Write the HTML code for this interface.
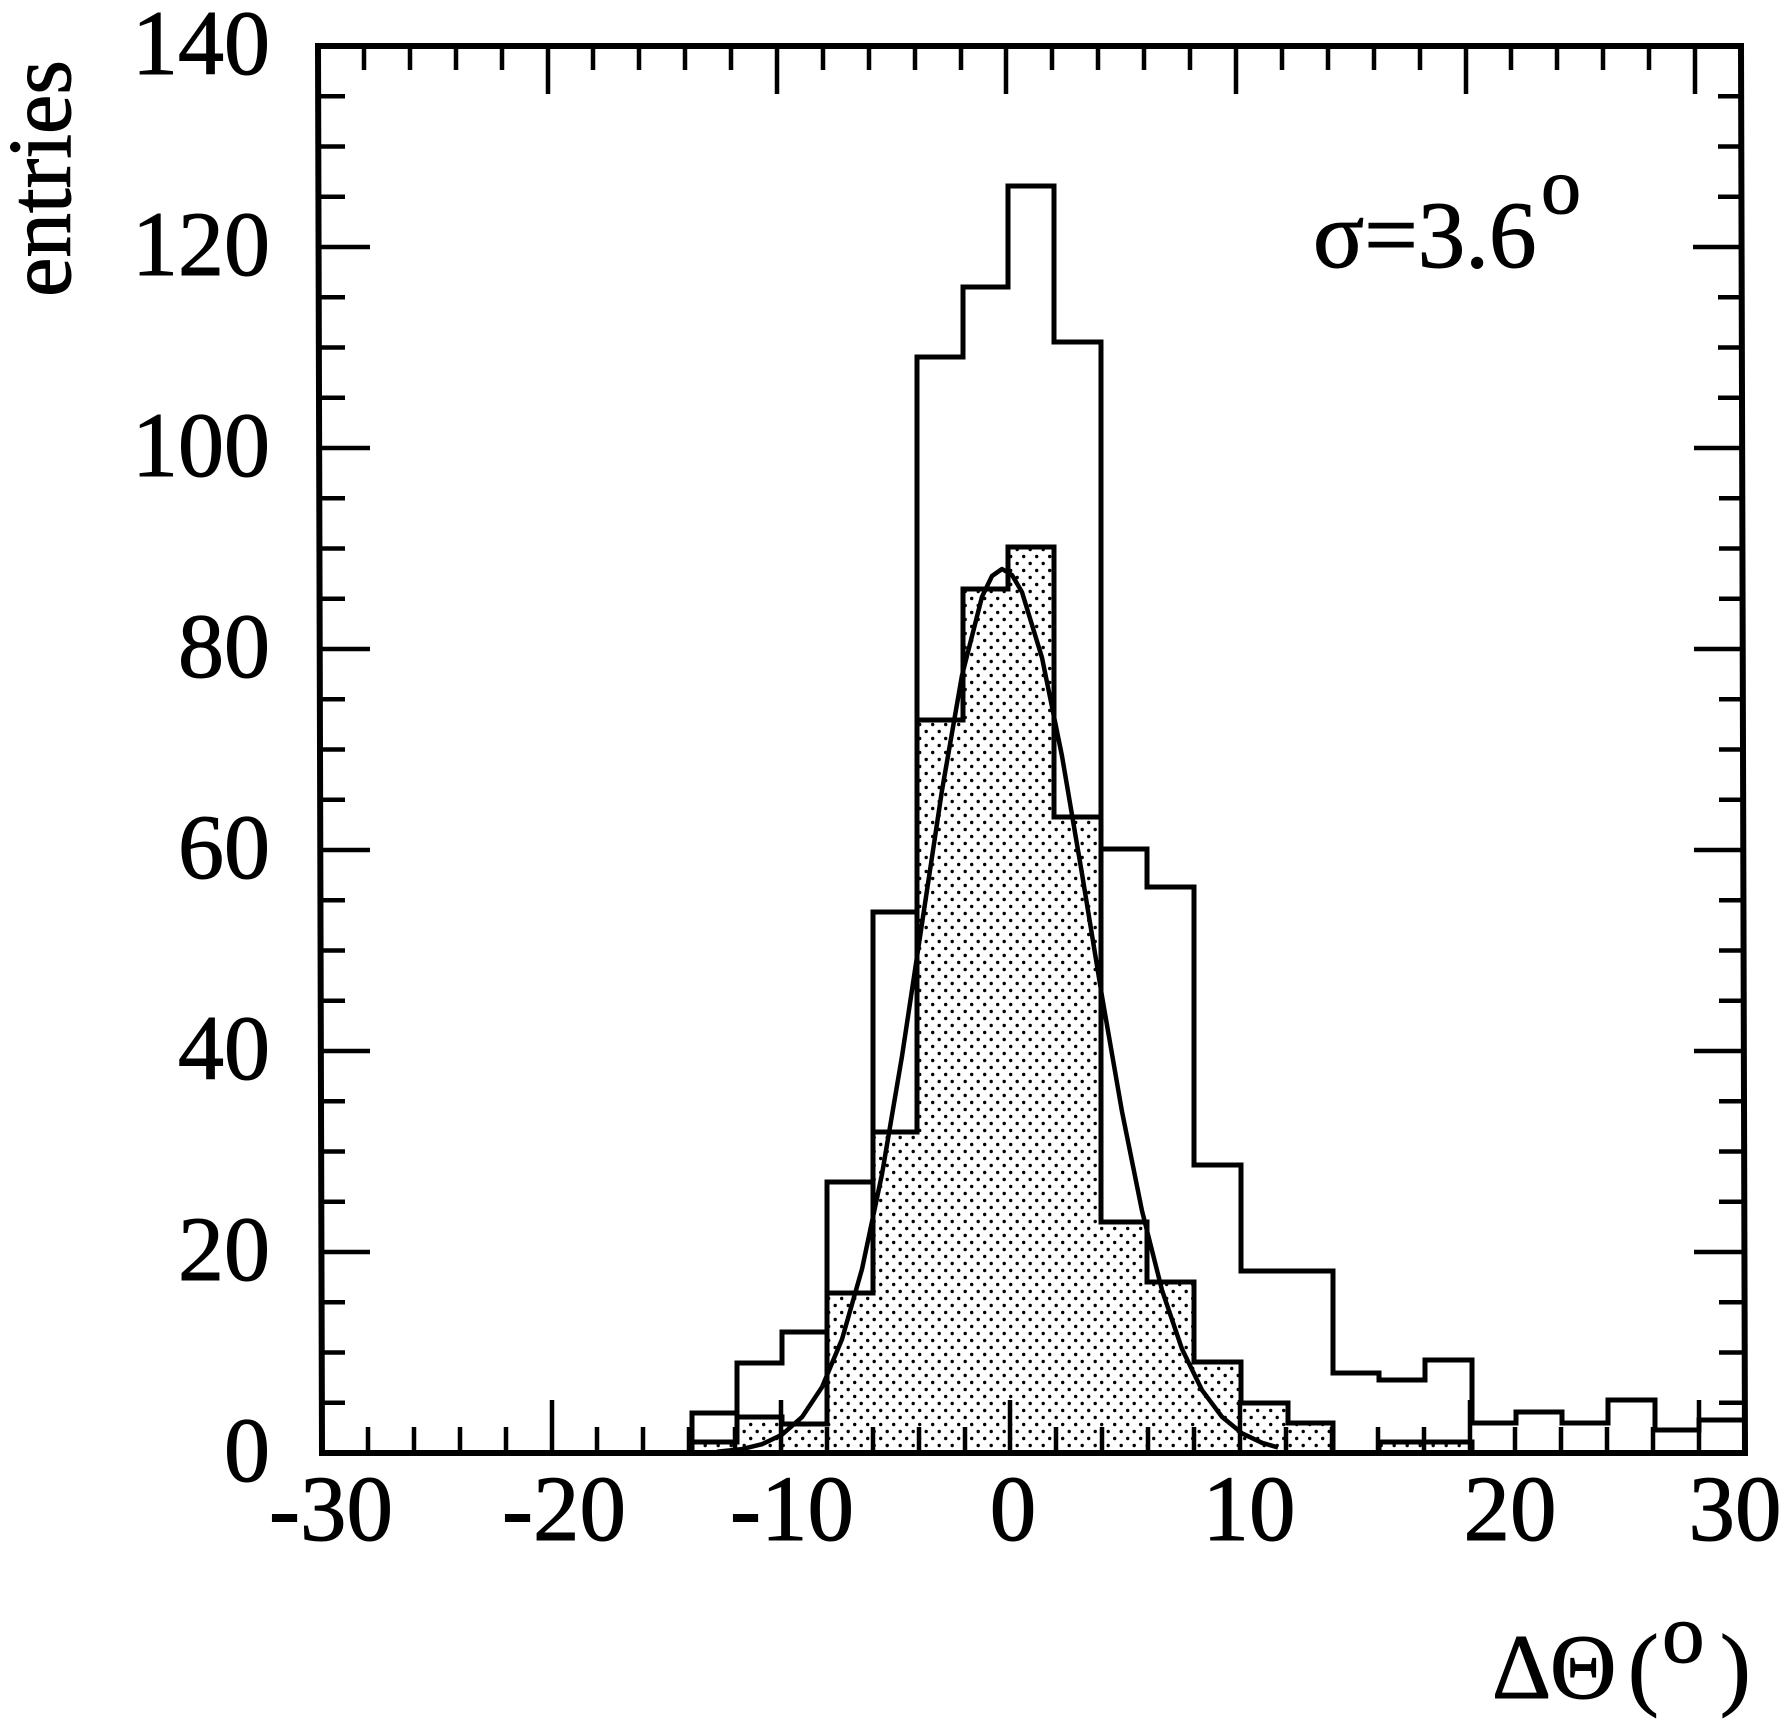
<!DOCTYPE html>
<html>
<head>
<meta charset="utf-8">
<style>
html,body{margin:0;padding:0;background:#fff;}
svg{display:block;}
text{font-family:"Liberation Serif",serif;fill:#000;stroke:#000;stroke-width:1;}
</style>
</head>
<body>
<svg width="1785" height="1721" viewBox="0 0 1785 1721" xmlns="http://www.w3.org/2000/svg">
<defs>
<pattern id="dots" patternUnits="userSpaceOnUse" width="13" height="14">
<circle cx="3.2" cy="3.5" r="1.7" fill="#000"/>
<circle cx="9.7" cy="10.5" r="1.7" fill="#000"/>
</pattern>
</defs>
<rect width="1785" height="1721" fill="#fff"/>

<!-- shaded histogram -->
<path d="M692 1453 V1442 H737 V1417 H782 V1424 H827 V1293 H873 V1132 H917 V720 H963 V589 H1008 V547 H1054 V817 H1101 V1222 H1147 V1282 H1194 V1362 H1241 V1403 H1288 V1423 H1333 V1453 Z" fill="url(#dots)" stroke="#000" stroke-width="5" stroke-linejoin="miter"/>
<path d="M1379 1453 V1442 H1472 V1453 Z" fill="url(#dots)" stroke="#000" stroke-width="5"/>

<!-- open histogram -->
<path d="M692 1453 V1413 H737 V1363 H782 V1332 H827 V1182 H873 V912 H917 V357 H963 V287 H1008 V186 H1054 V342 H1101 V849 H1147 V887 H1194 V1165 H1241 V1271 H1333 V1373 H1379 V1380 H1425 V1360 H1472 V1423 H1516 V1412 H1562 V1423 H1608 V1400 H1655 V1430 H1699 V1420 H1744" fill="none" stroke="#000" stroke-width="5" stroke-linejoin="miter"/>

<!-- gaussian fit -->
<polyline fill="none" stroke="#000" stroke-width="4.5" stroke-linejoin="round" points="
717,1451.7 742,1449.1 762,1444.2 782,1434.7 802,1417.1 822,1387.1 842,1339.3 862,1269.1 882,1174.1 902,1056.3 922,923.6 942,790.4 962,675.4 982,596.8 992,576 1002,569 1012,575 1022,592.1 1042,657.7 1062,756 1082,873.8 1102,996.3 1122,1111.6 1142,1210.8 1162,1290.1 1182,1349 1202,1390.1 1222,1416.9 1242,1433.3 1262,1442.8 1278,1447.5"/>

<!-- frame -->
<polygon points="318,46 1741,46 1745,1453 322,1453" fill="none" stroke="#000" stroke-width="6" stroke-linejoin="miter"/>

<!-- ticks -->
<g stroke="#000" stroke-width="4.5" fill="none">
<path d="M368 1453 V1427 M414 1453 V1427 M460 1453 V1427 M506 1453 V1427 M552 1453 V1400 M597 1453 V1427 M643 1453 V1427 M689 1453 V1427 M735 1453 V1427 M781 1453 V1400 M827 1453 V1427 M873 1453 V1427 M919 1453 V1427 M965 1453 V1427 M1010 1453 V1400 M1056 1453 V1427 M1102 1453 V1427 M1148 1453 V1427 M1194 1453 V1427 M1240 1453 V1400 M1286 1453 V1427 M1332 1453 V1427 M1378 1453 V1427 M1424 1453 V1427 M1470 1453 V1400 M1515 1453 V1427 M1561 1453 V1427 M1607 1453 V1427 M1653 1453 V1427 M1699 1453 V1400"/>
<path d="M364 46 V70 M410 46 V70 M456 46 V70 M502 46 V70 M548 46 V94 M593 46 V70 M639 46 V70 M685 46 V70 M731 46 V70 M777 46 V94 M823 46 V70 M869 46 V70 M915 46 V70 M961 46 V70 M1006 46 V94 M1052 46 V70 M1098 46 V70 M1144 46 V70 M1190 46 V70 M1236 46 V94 M1282 46 V70 M1328 46 V70 M1374 46 V70 M1420 46 V70 M1466 46 V94 M1511 46 V70 M1557 46 V70 M1603 46 V70 M1649 46 V70 M1695 46 V94"/>
<path d="M320 1402.75 H345 M320 1352.5 H345 M320 1302.25 H345 M320 1252 H370 M320 1201.75 H345 M320 1151.5 H345 M320 1101.25 H345 M320 1051 H370 M320 1000.75 H345 M320 950.5 H345 M320 900.25 H345 M320 850 H370 M320 799.75 H345 M320 749.5 H345 M320 699.25 H345 M320 649 H370 M320 598.75 H345 M320 548.5 H345 M320 498.25 H345 M320 448 H370 M320 397.75 H345 M320 347.5 H345 M320 297.25 H345 M320 247 H370 M320 196.75 H345 M320 146.5 H345 M320 96.25 H345"/>
<path d="M1744 1402.75 H1719 M1744 1352.5 H1719 M1744 1302.25 H1719 M1744 1252 H1694 M1744 1201.75 H1719 M1744 1151.5 H1719 M1744 1101.25 H1719 M1744 1051 H1694 M1744 1000.75 H1719 M1744 950.5 H1719 M1744 900.25 H1719 M1744 850 H1694 M1744 799.75 H1719 M1744 749.5 H1719 M1744 699.25 H1719 M1744 649 H1694 M1744 598.75 H1719 M1744 548.5 H1719 M1744 498.25 H1719 M1744 448 H1694 M1743 397.75 H1718 M1743 347.5 H1718 M1743 297.25 H1718 M1743 247 H1693 M1743 196.75 H1718 M1743 146.5 H1718 M1743 96.25 H1718"/>
</g>

<g font-family="Liberation Serif, serif">
<!-- y tick labels -->
<g font-size="92" text-anchor="end">
<text x="270" y="74">140</text>
<text x="270" y="275">120</text>
<text x="270" y="476">100</text>
<text x="270" y="677">80</text>
<text x="270" y="878">60</text>
<text x="270" y="1079">40</text>
<text x="270" y="1280">20</text>
<text x="270" y="1481">0</text>
</g>

<!-- x tick labels -->
<g font-size="93" text-anchor="middle">
<text x="331" y="1540">-30</text>
<text x="564" y="1540">-20</text>
<text x="792" y="1540">-10</text>
<text x="1013" y="1540">0</text>
<text x="1249" y="1540">10</text>
<text x="1510" y="1540">20</text>
<text x="1735" y="1540">30</text>
</g>

<!-- axis titles -->
<text transform="translate(70,297) rotate(-90)" font-size="90" textLength="237" lengthAdjust="spacingAndGlyphs">entries</text>

<text x="1492" y="1698" font-size="92">Δ</text>
<text x="1550" y="1698" font-size="92">Θ</text>
<text x="1628" y="1698" font-size="92">(</text>
<text x="1662" y="1662" font-size="85">o</text>
<text x="1720" y="1698" font-size="92">)</text>

<!-- sigma annotation -->
<text x="1313" y="267" font-size="95">σ=3.6</text>
<text x="1541" y="213" font-size="80">o</text>
</g>
</svg>
</body>
</html>
